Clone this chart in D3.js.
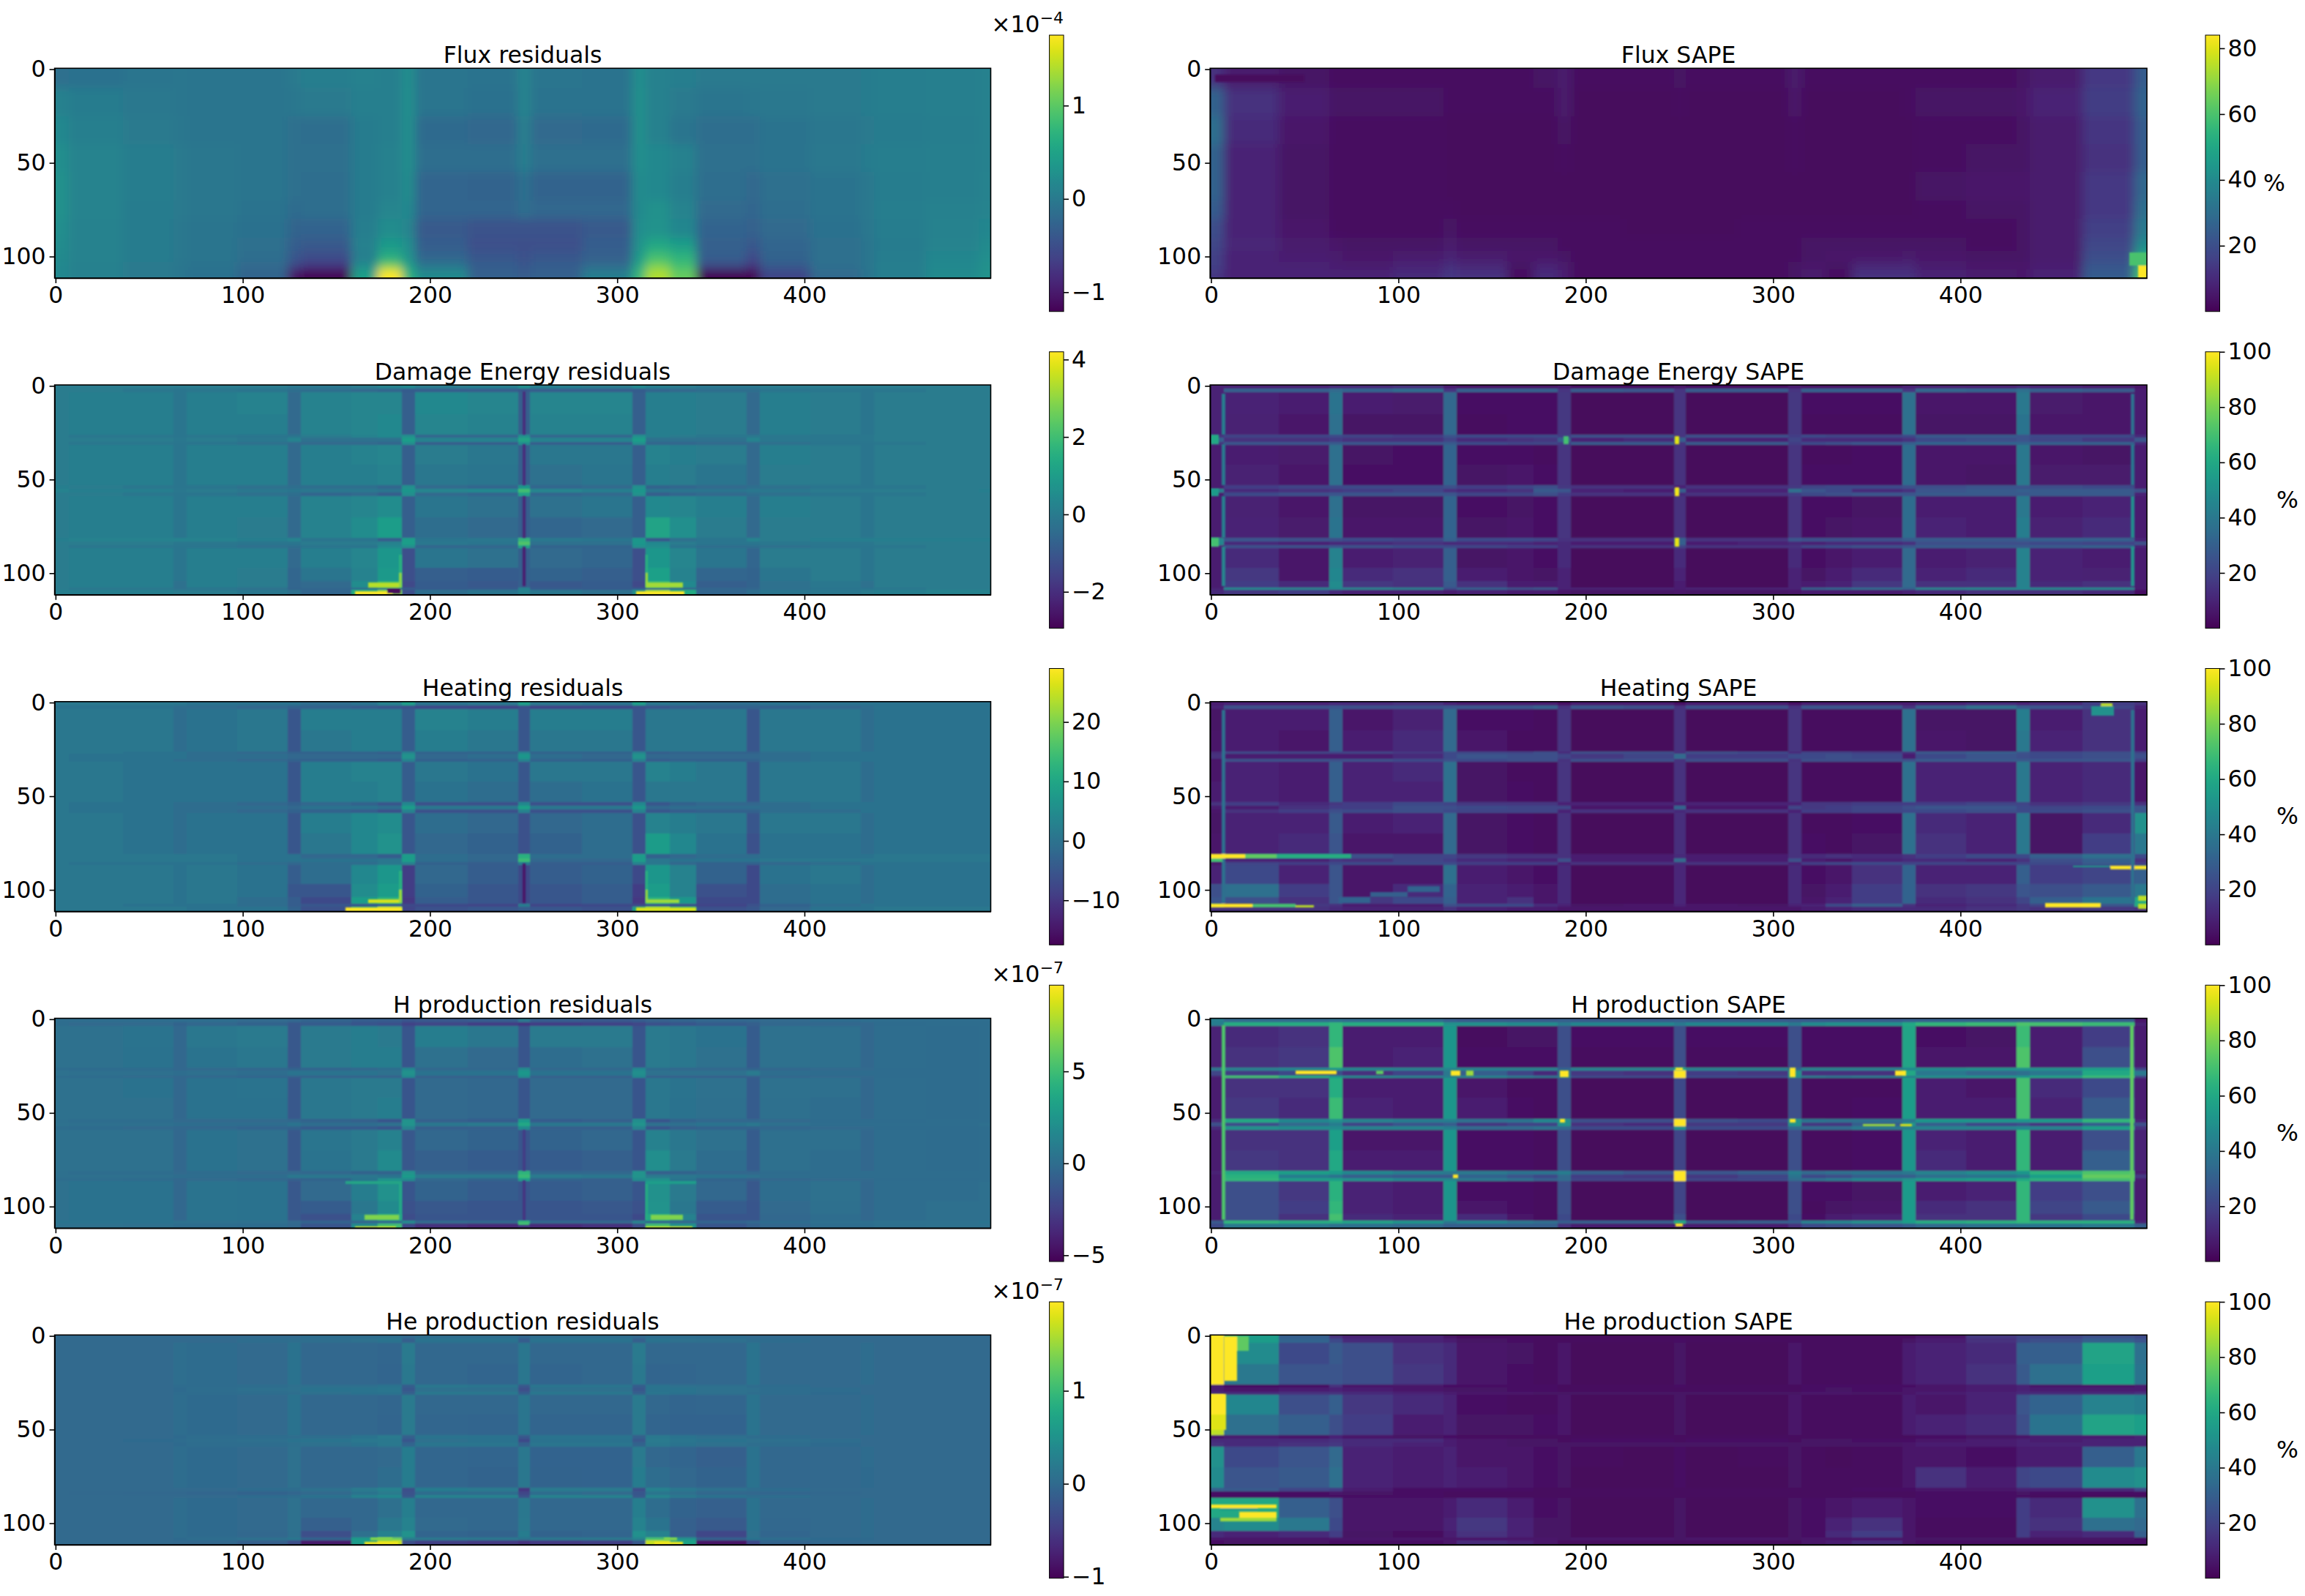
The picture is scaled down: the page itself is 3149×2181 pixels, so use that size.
<!DOCTYPE html>
<html>
<head>
<meta charset="utf-8">
<script src="https://d3js.org/d3.v7.min.js"></script>
<style>
  html, body { margin: 0; background: #fff; }
  text { font-family: "DejaVu Sans", sans-serif; fill: #000; }
  .tick line, .domain { stroke: #000; stroke-width: 1.6px; }
  .cell { shape-rendering: crispEdges; }
</style>
</head>
<body>
<svg id="fig" width="3149" height="2181"></svg>
<script>
// cell edges in data coordinates, the lattice panels share one grid
var xEdges = [-0.5,7,36,63,70,97,124,131,158,172,185,192,220,247,253.5,281,308,315,328,342,369,376,403,430,437,465,493,499.5];
var yEdges = [-0.5,1.5,3.5,15,26,27.5,30,31.5,42,53,55,57,59,70,81,83,85,86.5,97,104,107.5,109,111.5];
var fluxYEdges = [-0.5,10,25,40,55,70,80,90,97,103,107,111.5];

// flux residuals, unit 1e-6
var fluxResiduals = [
[-12,-10,-6,-4,-5,-5,0,5,8,6,24,-5,-8,14,-6,-8,26,8,5,0,0,0,0,3,5,6,8],
[8,2,-2,-4,-5,-5,-3,0,6,6,26,-5,-10,14,-8,-8,28,8,0,-5,-3,-2,0,2,5,6,8],
[18,6,0,-3,-5,-6,-12,-15,3,6,26,-18,-22,8,-20,-18,28,8,-5,-15,-15,-8,-3,0,3,5,8],
[25,12,4,0,-3,-6,-12,-12,3,8,24,-15,-15,6,-12,-12,26,18,8,-12,-12,-8,-2,2,5,6,8],
[28,12,4,0,-3,-6,-14,-15,3,8,22,-25,-28,-10,-28,-28,22,18,5,-15,-22,-14,-8,-2,4,6,10],
[28,12,3,0,-3,-8,-18,-15,3,14,18,-25,-25,-12,-22,-22,20,28,12,-20,-25,-15,-8,-2,5,8,12],
[25,10,2,-2,-5,-10,-28,-26,5,22,14,-38,-45,-45,-45,-38,24,30,15,-26,-30,-20,-10,-3,4,10,15],
[22,10,2,-2,-6,-12,-35,-38,8,38,24,-35,-48,-50,-48,-35,30,55,42,-30,-42,-25,-14,-5,3,12,20],
[20,10,2,-2,-6,-15,-42,-52,6,60,32,-25,-42,-48,-42,-30,38,85,70,-32,-56,-28,-14,-5,4,15,25],
[18,8,0,-4,-8,-20,-55,-72,20,105,45,-5,-35,-42,-35,-20,52,112,85,-52,-76,-36,-14,-5,5,18,28],
[18,8,0,-4,-10,-28,-105,-125,45,176,70,20,-30,-38,-30,5,75,140,105,-120,-120,-60,-20,-8,5,20,30]
];
var fluxSape = [
[12,6,4,3,3,3,3,3,3,4,6,3,3,4,3,3,6,3,3,3,3,3,3,4,6,14,24],
[26,12,7,4,4,4,3,3,3,3,6,2,2,3,2,2,5,2,2,2,3,4,4,5,8,15,26],
[30,10,5,3,3,3,2,2,2,2,4,2,2,2,2,2,3,2,2,2,2,3,3,4,6,13,24],
[26,8,4,3,3,3,2,2,2,2,3,2,2,2,2,2,3,2,2,2,2,3,4,4,6,12,24],
[26,8,4,3,3,3,2,2,2,2,2,2,2,2,2,2,2,2,2,2,2,4,5,5,6,14,28],
[24,8,4,3,3,3,3,2,2,2,2,2,2,2,2,2,2,2,2,2,2,3,4,4,6,14,30],
[20,8,5,3,3,3,4,3,3,3,3,3,2,2,2,3,3,3,3,3,3,3,3,4,6,16,34],
[18,9,6,5,4,4,6,4,4,4,3,3,3,3,3,3,3,4,4,4,4,4,3,4,6,18,40],
[16,8,7,6,5,6,8,6,5,5,4,3,3,3,3,3,3,4,5,5,6,5,4,4,6,20,50],
[16,8,8,7,6,8,11,9,4,8,6,3,3,3,3,3,4,5,4,9,9,6,5,5,7,22,55],
[14,8,8,8,8,10,14,12,3,10,7,3,3,3,3,3,4,6,3,12,12,8,6,5,8,24,60]
];
// damage energy residuals, unit 0.1
var damageResiduals = [
[0,0,0,0,0,0,-1,-1,0,2,4,0,1,6,1,0,4,1,0,-1,-1,0,0,0,0,0,0],
[0,0,-1,-2,-1,-2,-4,-4,-5,-6,-9,-8,-8,-10,-8,-8,-9,-6,-5,-4,-4,-2,-1,-2,-1,0,0],
[0,1,1,-2,1,2,-5,2,3,3,-8,4,3,-8,3,3,-8,1,1,0,-5,1,0,-2,0,0,0],
[0,1,1,-2,1,1,-5,2,3,4,-8,3,2,-8,2,2,-8,1,1,0,-5,1,0,-2,0,0,0],
[0,-1,-1,-2,-1,-2,-2,0,2,4,6,-6,-6,6,-6,-6,6,1,0,-1,-1,-1,-1,-1,0,0,0],
[0,0,0,-1,0,-1,2,-3,-3,-3,10,2,2,12,2,2,10,-3,-3,-3,2,-1,-1,-1,0,0,0],
[0,-1,-1,-2,-2,-3,-5,-5,-5,-6,6,-8,-8,6,-8,-8,6,-6,-6,-5,-5,-3,-2,-2,-1,0,0],
[0,1,1,-2,1,1,-5,1,2,3,-8,0,-1,-8,-1,-1,-8,2,1,0,-5,1,0,-2,0,0,0],
[0,1,1,-2,1,1,-5,1,1,2,-8,-1,-2,-8,-3,-2,-8,1,0,-2,-5,0,0,-2,0,0,0],
[1,0,-1,-2,-2,-3,-4,-4,-4,-6,6,-5,-6,8,-6,-5,6,-7,-6,-5,-4,-3,-2,-2,-1,0,0],
[2,1,1,-1,0,-1,-2,-1,-1,-2,8,3,4,20,3,1,8,-2,-2,-2,-1,-1,0,0,0,0,1],
[0,0,-1,-2,-2,-3,-4,-6,-5,-8,6,-5,-6,12,-6,-5,7,-8,-6,-5,-4,-3,-2,-2,-1,0,0],
[0,1,1,-2,1,1,-5,2,3,5,-8,-2,-3,-8,-3,-2,-8,4,3,1,-5,1,0,-2,0,0,0],
[0,1,1,-2,1,0,-5,2,5,10,-8,-4,-5,-8,-6,-5,-8,12,6,0,-5,0,0,-2,0,0,0],
[1,2,2,2,2,1,2,-2,-2,-8,10,-2,-1,18,-1,-2,8,-10,-3,-2,2,0,1,1,1,1,1],
[0,0,0,-1,-1,-2,-2,0,0,2,10,-1,-2,22,-3,-3,8,4,0,-2,-2,-1,-1,-1,0,0,0],
[0,-1,-1,-2,-2,-3,-4,-2,-2,4,6,-6,-6,12,-7,-7,6,5,-2,-4,-4,-3,-2,-2,-1,0,0],
[0,1,1,-2,1,1,-5,1,3,8,-12,-2,-3,-8,-5,-6,-12,8,3,-2,-6,0,0,-2,0,0,0],
[0,1,1,-2,1,0,-6,-2,2,9,-12,-8,-9,-8,-7,-8,-12,11,2,-6,-7,-2,0,-2,0,0,0],
[0,1,1,-3,1,0,-6,-5,5,16,-14,-9,-10,-8,-10,-9,-14,18,4,-8,-7,-3,-1,-3,0,0,0],
[0,-1,-1,-3,-2,-3,-7,-6,-4,-3,-9,-9,-9,2,-9,-9,-9,-8,-6,-6,-6,-3,-2,-2,-1,0,0],
[1,1,1,0,0,-1,-3,-6,14,28,-12,-4,-2,2,-1,-3,6,30,14,-6,-4,-2,-1,0,1,2,2]
];
var damageSape = [
[10,10,10,12,12,14,8,6,6,6,8,4,4,6,4,4,8,6,6,6,10,10,10,12,10,8,6],
[10,30,30,34,32,35,15,30,30,30,15,28,26,15,28,28,15,30,30,30,15,33,32,36,30,28,8],
[10,10,8,38,8,7,33,4,4,4,16,2,2,15,2,2,16,4,4,4,36,6,6,40,7,6,8],
[10,9,6,36,5,5,33,3,4,4,16,2,2,15,2,2,16,3,3,3,36,5,5,38,6,6,8],
[14,20,20,22,20,18,25,22,22,22,18,24,24,15,24,24,18,22,20,20,22,28,28,26,22,22,12],
[30,14,14,18,14,14,20,12,14,16,30,10,12,30,10,10,20,12,12,12,14,22,24,26,20,16,26],
[14,26,26,28,26,26,28,22,20,20,18,28,28,15,28,28,18,22,24,26,30,32,32,32,30,30,12],
[8,8,7,36,5,4,32,4,4,3,15,2,2,14,2,2,15,3,3,4,35,6,6,40,6,5,8],
[8,9,6,36,4,4,32,5,6,4,15,2,2,14,2,2,15,4,4,4,35,6,5,40,7,7,8],
[8,18,20,22,22,22,24,18,20,24,16,14,14,10,14,14,16,20,22,22,24,24,26,26,24,22,8],
[42,12,14,16,18,20,14,12,14,28,26,10,8,30,10,10,36,26,22,12,14,26,28,30,28,28,24],
[8,22,24,26,26,26,26,20,20,24,18,14,14,12,14,14,18,22,24,26,26,28,28,28,28,28,10],
[8,9,6,36,5,5,32,4,5,4,15,2,2,14,2,2,15,4,4,5,35,8,8,40,8,10,8],
[8,10,7,38,6,6,32,5,6,4,15,2,2,14,2,2,15,4,5,6,35,10,8,42,9,12,8],
[45,26,24,24,22,20,30,22,22,20,14,14,14,30,14,14,26,24,24,24,28,28,28,30,30,30,10],
[46,12,10,12,12,14,12,12,12,10,12,8,8,30,8,10,12,10,12,12,14,24,24,24,22,20,24],
[10,24,24,26,24,22,22,20,18,18,12,14,14,20,14,14,14,20,22,24,26,28,28,28,28,30,10],
[8,12,6,44,8,9,30,5,6,4,12,2,2,12,2,2,12,4,6,8,34,8,9,44,10,8,8],
[8,16,6,46,12,14,30,8,6,5,10,2,2,10,2,2,10,5,8,12,34,10,12,44,10,9,8],
[8,18,12,48,16,14,28,14,8,8,10,2,2,8,2,2,10,8,10,16,34,14,14,44,12,14,8],
[10,46,44,46,44,42,22,30,24,26,10,10,10,8,10,10,10,30,32,34,30,44,46,46,46,46,8],
[12,16,18,12,10,10,8,10,8,8,6,5,5,6,5,5,6,8,8,8,10,12,14,14,14,12,4]
];
var heatingResiduals = [
[1,1,1,1,0,0,0,-1,0,3,8,0,1,8,1,0,8,1,0,-1,-1,0,0,0,0,0,0],
[0,0,0,-1,-1,-2,-3,-3,-4,-5,-6,-7,-8,-6,-8,-7,-6,-5,-4,-3,-3,-3,-2,-1,0,0,0],
[1,1,1,-1,0,1,-5,2,2,2,-4,3,2,-5,2,2,-5,1,1,1,-5,1,1,-1,0,0,0],
[1,1,1,-1,0,1,-5,1,2,2,-4,2,1,-5,1,1,-5,1,1,1,-5,1,1,-1,0,0,0],
[1,1,0,0,-1,-2,-3,-3,-3,-4,3,-3,-3,3,-3,-3,3,-4,-3,-3,-3,-1,0,0,0,0,0],
[1,0,0,0,-1,-1,-2,-2,-2,-2,6,-2,-1,7,-1,-2,6,-2,-2,-2,-2,-1,0,0,0,0,0],
[1,0,0,-1,-1,-2,-3,-3,-3,-4,3,-3,-3,3,-3,-3,3,-4,-3,-3,-3,-1,0,0,0,0,0],
[1,1,0,0,0,0,-5,2,3,3,-4,1,0,-5,1,1,-5,3,2,1,-5,1,1,-1,0,0,0],
[1,1,0,0,0,0,-5,2,2,3,-4,0,-1,-5,-1,0,-5,1,1,1,-5,1,1,-1,0,0,0],
[1,0,0,-1,-1,-2,-3,-2,-3,-5,4,-6,-6,4,-6,-6,4,-5,-3,-2,-2,-1,0,0,0,0,0],
[1,0,0,-1,-1,-1,-2,0,0,-1,8,1,1,9,1,1,7,-2,-1,-1,-1,-1,0,0,0,0,0],
[1,0,0,-1,-1,-2,-3,-3,-4,-6,3,-6,-6,3,-6,-6,3,-5,-4,-3,-3,-1,-1,0,0,0,0],
[1,1,0,-1,0,0,-5,2,4,5,-5,-1,-2,-6,-2,-1,-6,3,2,1,-5,1,1,-1,0,0,0],
[1,1,0,-1,0,0,-5,1,4,6,-5,-2,-3,-6,-3,-1,-6,8,4,0,-6,0,0,-1,0,0,0],
[1,1,1,1,1,0,0,-2,-2,-4,8,-1,-2,12,-1,-1,8,-3,-2,-1,-1,0,0,0,1,1,1],
[1,1,1,1,1,0,0,0,0,1,8,-1,-2,14,-2,-2,8,1,0,0,0,1,1,1,1,1,1],
[1,0,0,0,0,-1,-2,-1,-1,1,3,-3,-4,2,-4,-4,3,1,-2,-3,-3,-2,-1,0,0,0,0],
[1,1,1,0,1,0,-4,-1,4,7,-9,-2,-4,-7,-4,-3,-7,7,3,-3,-7,0,1,-1,0,0,0],
[1,1,1,0,1,0,-5,-5,5,8,-9,-3,-5,-7,-5,-4,-9,8,3,-6,-7,-1,0,-1,0,0,0],
[1,1,1,0,1,-1,-4,-7,8,12,-10,-4,-5,-7,-5,-4,-10,12,7,-7,-7,-1,0,-1,0,0,0],
[1,1,0,0,0,-1,-4,-5,-5,-4,-7,-7,-8,2,-8,-7,-7,-5,-6,-8,-6,-3,-1,0,0,0,0],
[1,1,1,1,0,0,-3,-6,8,22,-8,-6,-5,-4,-5,-6,8,20,10,-6,-5,-2,0,0,1,1,1]
];
var heatingSape = [
[8,10,10,12,12,14,10,8,8,8,4,8,8,4,8,8,4,8,8,8,8,10,12,10,12,18,14],
[10,24,24,26,24,24,26,26,26,30,14,26,24,14,24,24,14,26,26,26,14,30,36,28,26,20,10],
[5,8,8,30,6,9,34,4,4,3,15,2,2,14,2,2,15,3,3,3,36,5,5,42,8,14,8],
[6,8,6,30,8,12,34,6,3,3,15,2,2,14,2,2,15,3,3,3,36,6,5,40,10,14,8],
[12,22,20,20,20,16,22,20,20,24,12,24,24,14,24,22,12,20,20,18,14,28,30,26,22,24,20],
[14,8,8,8,8,12,22,26,24,24,20,16,20,34,18,18,22,22,24,22,8,22,26,24,22,24,24],
[6,24,24,24,24,22,24,22,24,24,14,24,24,14,24,24,14,24,24,24,24,28,28,28,26,26,18],
[6,10,8,30,10,12,36,5,3,3,15,2,2,14,2,2,15,3,3,3,36,10,10,40,10,12,6],
[8,10,8,30,10,10,36,5,4,3,15,2,2,14,2,2,15,3,3,3,36,10,10,40,10,12,6],
[14,18,12,16,18,22,20,16,16,16,10,10,10,10,10,10,10,16,16,18,18,18,20,20,14,16,14],
[8,8,14,18,18,24,24,22,20,20,20,6,6,32,6,6,20,16,18,20,24,26,26,22,20,22,26],
[6,14,18,24,22,24,22,20,20,20,10,14,14,12,14,14,10,18,18,20,22,22,24,22,22,24,26],
[5,10,10,28,8,10,34,5,4,3,14,2,2,13,2,2,14,3,3,4,36,12,10,40,5,12,50],
[6,10,12,26,6,6,34,5,4,3,14,2,2,13,2,2,14,4,3,5,36,14,10,40,5,18,40],
[14,28,28,30,24,20,20,16,14,14,14,8,8,12,8,8,14,12,14,12,14,18,22,22,30,36,22],
[12,10,10,16,14,20,18,12,10,10,24,8,8,34,8,8,24,8,6,10,12,12,10,14,24,30,14],
[6,20,18,22,22,22,22,18,18,18,10,14,14,12,14,14,10,18,20,22,20,20,20,20,22,28,18],
[10,22,10,26,6,6,36,8,6,4,12,2,2,11,2,2,12,4,6,14,32,10,10,30,18,20,30],
[24,36,18,26,6,12,32,10,8,6,12,2,2,11,2,2,12,5,8,18,32,14,16,26,24,28,40],
[26,24,14,26,16,22,30,10,14,6,12,2,2,11,2,2,12,6,10,18,32,12,14,20,30,38,60],
[40,10,16,14,8,8,24,22,22,12,10,5,6,10,6,5,10,10,22,30,14,10,12,16,20,26,60],
[14,14,14,12,10,10,14,10,8,8,6,6,6,6,6,6,6,8,10,12,12,12,14,16,14,16,14]
];
// H production residuals, unit 1e-8
var hResiduals = [
[0,0,0,0,0,-2,-4,-6,-10,-10,-14,-12,-10,6,-10,-12,-10,-8,-6,-4,-3,-2,-1,0,0,0,0],
[0,-2,-2,-6,-4,-6,-12,-10,-14,-16,-24,-22,-26,-30,-26,-24,-22,-16,-14,-10,-8,-4,-3,-3,-1,0,0],
[2,2,4,-4,6,8,-12,8,10,8,-14,10,6,-14,8,8,-14,8,6,3,-10,2,1,-4,0,-1,0],
[2,2,3,-4,4,6,-12,8,10,10,-14,2,-2,-14,0,2,-14,8,6,2,-10,2,1,-4,0,-1,0],
[0,-1,-1,-3,-2,-3,-6,-5,-3,0,16,-3,-3,18,-3,-3,16,-1,-3,-4,-6,-3,-2,-2,-1,-1,0],
[2,1,1,0,1,0,4,4,4,2,22,3,3,26,3,3,20,2,2,2,8,0,-1,-1,-1,-1,0],
[0,-1,-2,-4,-4,-5,-8,-8,-8,-8,16,-8,-8,18,-8,-8,16,-8,-8,-8,-8,-4,-2,-2,-1,-1,0],
[2,2,3,-4,3,4,-12,6,8,8,-14,-2,-3,-14,-2,-2,-14,6,4,2,-10,2,1,-4,0,-1,0],
[2,2,2,-4,3,3,-12,6,8,10,-14,-2,-3,-14,-2,-2,-14,6,3,1,-10,1,0,-4,0,-1,0],
[1,0,0,-2,-2,-2,-4,-6,-8,-14,24,-8,-10,28,-10,-8,20,-14,-6,-4,-4,-2,-1,-1,-1,0,0],
[2,1,1,0,0,0,4,0,0,2,24,6,8,36,6,6,24,2,1,4,6,1,0,0,0,0,1],
[0,-1,-2,-3,-4,-5,-6,-10,-10,-14,14,-8,-8,18,-8,-8,14,-14,-8,-6,-6,-3,-2,-2,-1,-1,0],
[2,2,2,-4,3,2,-12,5,8,12,-12,-4,-6,-14,-6,-4,-14,12,6,2,-10,1,1,-4,0,-1,0],
[2,2,2,-4,3,2,-12,4,8,18,-12,-8,-10,-14,-10,-8,-14,20,8,0,-10,1,0,-4,0,-1,0],
[1,0,0,-2,-1,-2,-2,-4,-6,-6,24,-3,-4,44,-4,-4,24,-8,-6,-4,-3,-1,0,0,0,0,0],
[1,1,1,0,0,0,6,6,6,4,28,8,8,48,8,6,24,8,6,4,2,0,0,0,0,0,0],
[0,0,-1,-3,-2,-4,-8,-6,4,22,18,-4,-6,30,-6,-8,18,22,4,-6,-8,-4,-2,-2,-1,-1,0],
[2,3,3,-4,4,3,-12,-2,10,22,-14,-6,-10,-14,-10,-8,-14,22,8,-3,-12,0,2,-4,0,0,1],
[2,3,3,-4,4,3,-12,-10,6,18,-16,-12,-14,-14,-14,-12,-16,24,6,-10,-14,-2,1,-4,0,1,1],
[2,3,3,-4,4,3,-12,-16,12,32,-18,-14,-14,-14,-14,-14,-20,36,12,-14,-14,-3,0,-4,0,1,1],
[4,4,3,2,2,1,-2,-6,-4,-2,18,-2,-3,34,-3,-3,14,-3,-3,-5,-4,-1,1,1,2,2,4],
[2,2,1,0,0,-1,-4,-14,18,50,-22,-32,-36,-30,-36,-32,-18,50,22,-14,-8,-3,0,0,1,2,2]
];
var hSape = [
[42,34,34,36,34,34,30,28,28,28,30,28,28,30,28,28,28,28,28,28,30,30,30,30,28,28,6],
[42,62,62,66,62,62,50,50,48,48,40,46,46,40,46,46,40,48,50,50,60,66,68,72,70,68,10],
[10,12,14,66,8,8,52,3,5,5,24,4,4,24,4,4,24,4,4,4,58,4,5,68,8,18,8],
[10,14,16,72,8,10,52,4,4,4,24,3,3,24,3,3,24,4,4,4,58,6,6,72,8,24,8],
[40,44,46,52,46,44,44,44,44,44,32,44,44,60,44,44,32,44,44,44,46,48,50,50,50,56,20],
[20,18,22,24,14,20,40,30,20,12,36,16,14,100,18,16,50,14,14,14,60,40,34,36,40,60,40],
[10,70,62,52,46,44,42,44,40,36,40,22,22,100,22,22,48,40,38,40,42,50,52,52,58,68,20],
[8,14,14,62,8,8,52,6,3,3,24,2,2,22,2,2,24,3,3,3,55,8,6,70,12,22,8],
[8,16,12,68,10,8,52,8,4,3,24,2,2,22,2,2,24,3,3,4,55,8,8,70,10,28,8],
[12,60,46,50,44,42,42,36,38,46,50,24,24,100,24,22,50,38,36,36,40,52,52,52,54,66,10],
[24,24,34,42,20,26,30,16,20,20,50,14,12,100,16,16,50,16,16,30,50,30,22,24,16,30,24],
[12,50,48,48,44,44,42,34,34,36,34,22,22,50,22,22,34,34,34,40,42,44,44,46,44,56,14],
[8,14,14,56,6,6,52,4,4,3,24,2,2,20,2,2,24,3,3,4,52,10,8,66,8,24,10],
[8,16,14,60,8,8,52,4,4,3,24,2,2,20,2,2,24,3,3,4,52,12,8,66,8,30,10],
[10,60,56,54,46,42,40,40,38,38,42,30,26,100,26,30,42,34,36,38,40,44,48,52,64,72,8],
[8,64,42,38,30,28,28,32,26,22,34,18,16,100,16,20,38,22,24,30,30,36,38,42,56,76,16],
[8,66,56,56,50,46,46,40,36,30,34,20,20,100,20,22,34,36,40,46,50,54,56,60,64,70,8],
[8,24,16,64,10,8,52,4,4,3,24,2,2,20,2,2,24,4,4,5,54,8,10,66,18,24,8],
[8,24,18,66,10,8,52,6,4,3,24,2,2,20,2,2,24,3,5,6,54,12,14,66,20,28,8],
[8,24,14,70,12,10,52,12,6,3,22,2,2,24,2,2,22,4,8,10,54,14,14,66,16,22,8],
[28,66,62,62,58,52,40,46,40,36,30,30,30,60,28,30,30,44,46,50,56,62,64,66,64,64,10],
[22,40,40,36,36,34,30,30,30,30,14,8,8,10,8,8,14,22,24,26,30,34,36,38,38,40,30]
];
// He production residuals, unit 1e-9
var heResiduals = [
[0,0,0,0,0,0,0,3,4,4,-3,3,3,-5,3,4,-3,3,3,2,0,0,0,0,0,0,0],
[0,0,0,0,0,3,5,5,8,12,-10,10,10,-15,10,10,-10,10,8,6,4,2,0,0,0,0,0],
[0,0,0,5,2,0,10,-2,-3,-5,20,-3,-3,15,-3,-3,20,-4,-4,-3,12,0,0,3,0,0,0],
[0,0,0,5,2,0,10,-2,-4,-6,18,-4,-6,15,-6,-4,18,-6,-5,-3,12,0,0,3,0,0,0],
[0,0,0,2,2,3,6,6,6,12,-15,16,14,-20,14,14,-15,12,8,6,4,2,0,0,0,0,0],
[0,0,0,1,4,6,8,10,12,14,-20,8,6,-30,8,8,-20,12,12,8,6,4,2,0,0,0,0],
[0,0,0,2,2,3,5,8,10,12,-10,18,18,-15,16,16,-12,14,10,8,5,3,1,0,0,0,0],
[0,0,0,4,1,0,10,-3,-4,-5,20,-3,-4,14,-4,-3,20,-4,-6,-5,12,0,0,2,0,0,0],
[0,0,0,4,1,0,10,-3,-3,-6,20,-5,-6,14,-6,-6,20,-6,-7,-7,12,0,0,2,0,0,0],
[0,0,0,1,3,3,5,5,12,20,-10,12,10,-20,12,12,-10,18,12,6,4,2,0,0,0,0,0],
[0,0,1,2,5,6,10,12,16,18,-22,8,10,-35,10,10,-20,20,14,10,8,6,3,0,0,0,0],
[0,0,0,1,3,4,6,8,12,18,-6,14,14,-10,14,14,-8,18,12,8,5,3,1,0,0,0,0],
[0,0,0,3,1,0,8,-4,-2,0,22,-5,-6,16,-7,-7,20,-2,-6,-10,10,-2,-1,2,0,0,0],
[0,0,0,3,1,0,8,-4,-2,4,22,-5,-8,16,-8,-7,22,3,-4,-8,10,-2,-1,1,0,0,0],
[0,0,0,0,0,2,4,8,20,30,-30,22,20,-55,20,20,-30,28,16,8,4,2,0,0,0,0,0],
[0,-1,-2,-3,-5,-8,-5,0,12,20,-25,2,2,-40,2,0,-22,14,6,-2,-4,-5,-3,0,0,0,0],
[0,0,0,0,0,2,3,10,28,36,-20,30,30,-25,30,30,-20,32,18,10,4,3,0,0,0,0,0],
[0,0,0,3,1,0,8,-4,-2,6,24,-2,-3,16,-4,-4,24,4,-8,-10,10,-1,0,2,0,0,0],
[0,0,0,3,1,0,8,-10,-2,16,30,0,-2,18,-2,-2,30,12,-10,-18,10,-2,0,2,0,0,0],
[0,0,0,3,1,-2,6,-30,8,30,50,-6,-8,22,-8,-6,46,30,-14,-38,8,-5,0,2,0,0,0],
[0,0,0,1,3,8,15,-8,60,130,20,18,16,10,16,16,30,110,50,-10,10,3,1,1,0,0,0],
[0,0,0,-1,-3,-10,-30,-80,60,170,-30,-45,-50,-60,-50,-45,-20,170,70,-85,-35,-8,-3,0,0,0,0]
];
var heSape = [
[100,55,30,14,10,10,5,3,3,3,3,2,2,2,2,2,3,3,3,3,3,6,16,20,20,24,22],
[100,55,32,22,12,10,8,5,4,3,3,3,3,4,3,3,3,3,3,3,5,8,14,22,24,30,26],
[100,48,22,28,24,14,12,6,5,3,6,2,2,5,2,2,6,3,3,3,8,10,12,30,30,58,36],
[100,40,26,26,24,16,12,6,4,3,6,2,2,5,2,2,6,3,3,3,8,10,14,28,36,56,38],
[8,4,4,14,6,6,4,4,4,4,3,3,3,4,3,3,3,4,4,4,4,6,8,10,6,6,8],
[8,6,8,10,8,6,5,5,4,4,3,3,3,3,3,3,3,4,5,4,6,6,8,10,8,8,8],
[12,12,14,14,12,10,8,6,6,5,5,5,5,5,5,5,5,6,6,5,6,8,10,12,12,12,14],
[100,46,24,30,16,12,10,4,3,3,6,2,2,5,2,2,6,3,3,3,8,6,10,26,32,44,42],
[90,36,30,24,18,8,10,5,5,4,6,2,2,5,2,2,6,3,3,3,8,10,12,24,38,58,56],
[6,8,6,10,6,5,4,3,3,3,3,3,3,3,3,3,3,3,3,3,3,4,5,6,8,8,10],
[12,12,12,14,12,12,8,6,5,5,3,4,4,3,4,4,3,5,5,4,4,6,8,10,8,10,10],
[14,12,14,16,12,10,8,6,5,5,5,5,5,5,5,5,5,5,5,5,6,8,8,10,10,10,10],
[50,22,26,34,10,8,10,6,6,4,5,3,2,4,2,3,5,3,2,3,6,6,4,8,8,30,40],
[48,26,28,36,10,8,10,8,6,4,5,2,2,4,2,2,5,3,3,3,6,14,8,20,22,48,50],
[30,28,20,18,8,4,4,4,4,3,3,3,3,3,3,3,3,3,3,4,4,6,6,10,10,12,20],
[4,4,4,6,5,4,3,3,3,3,3,3,3,3,3,3,3,3,3,3,3,4,4,5,4,4,4],
[4,4,4,4,4,4,3,3,3,3,3,3,3,3,3,3,3,3,3,3,3,4,4,4,3,3,3],
[60,60,30,24,6,6,8,12,8,4,5,2,2,5,2,2,5,4,6,8,6,4,4,18,12,50,36],
[45,48,40,22,6,6,10,16,10,5,5,2,2,5,2,2,5,4,10,14,6,3,3,18,14,36,34],
[12,10,12,18,5,3,8,14,10,5,5,2,2,5,2,2,5,4,12,18,6,3,3,18,10,12,30],
[6,6,6,6,6,6,6,6,6,6,5,6,6,5,6,6,5,6,6,6,6,5,5,5,5,5,4],
[4,5,5,4,4,4,6,12,10,6,3,3,3,3,3,3,3,6,8,12,5,4,4,4,4,4,4]
];

// narrow features that fall between the grid lines: [x0, x1, y0, y1, value]
var fluxSapeSpots = [[2,50,3,7,2],[490,499.5,98,105,60],[495,499.5,105,111.5,84]];
var damageResSpots = [[249.5,251,3,26,-20],[249.5,251,31,53,-20],[249.5,251,59,81,-22],[249.5,251,86,107,-24],[167,184,105,107.5,34],[183.5,185,100,107.5,30],[183.5,185,90,100,16],[315,316.5,100,107.5,32],[315,316.5,90,100,16],[316,335,105,107.5,32],[160,180,109.5,111.5,42],[310,336,109.5,111.5,42],[177,184,108,111,-28]];
var damageSapeSpots = [[5.5,7.5,4,26,42],[5.5,7.5,31,53,40],[5.5,7.5,59,81,42],[5.5,7.5,86,107,45],[491,493,4,26,36],[491,493,31,53,38],[491,493,59,81,48],[491,493,86,107,50],[0,4,26,31,60],[0,4,55,59,55],[0,4,81,86,70],[247.5,250,27,31,95],[247.5,250,54,59,98],[247.5,250,81,86,96],[188,191,27,31,70]];
var heatingResSpots = [[249.5,251,86,107,-15],[167,184,105,107,26],[183.5,185,100,107,22],[183.5,185,90,100,12],[315,316.5,100,107,22],[315,316.5,90,100,12],[316,333,105,107,22],[155,185,109.5,111.5,29],[310,342,109.5,111.5,26]];
var heatingSapeSpots = [[5.5,7.5,4,107,36],[-0.5,18,81,83,100],[18,35,81,83,75],[35,75,81,83,62],[-0.5,6,83,85,70],[-0.5,22,107.5,109.5,100],[22,45,107.5,109.5,70],[45,55,108,109.5,90],[445,475,107,109.5,100],[480,499.5,87,89,100],[460,480,87,88,55],[475,481,0.5,2,90],[470,482,2,7,50],[495,499.5,103,106,90],[495,499.5,107.5,110,90],[68,85,104,107,32],[85,105,101,104,30],[105,122,98,101,32],[491,493,4,107,36]];
var hResSpots = [[249.5,251,59,81,-26],[249.5,251,86,107,-30],[165,184,104.5,107,68],[318,335,104.5,107,68],[183.5,185,88,107,36],[315,316.5,88,107,40],[160,182,110.5,111.5,90],[315,340,110.5,111.5,90],[247,253,108,110,50],[155,185,86.5,88,35],[315,342,86.5,88,30]];
var hSapeSpots = [[5.5,7.5,3,107,72],[490.5,492.5,3,107,75],[45,67,27.5,29.5,100],[88,92,27.5,29.5,75],[128,133,27.5,30,100],[136,140,27.5,30,85],[186,191,27.5,31,100],[365,371,27.5,30,100],[248,252,26,27.5,100],[309,312,26,31,100],[186,189,53,55,100],[309,312,53,55,100],[348,365,56,57,85],[368,374,56,57,95],[129,132,83,85,100],[248,252,109,110.5,100]];
var heResSpots = [[165,183,110,111.5,190],[320,335,110,111.5,190],[168,180,107.5,109,140],[325,332,107.5,109,140]];
var heSapeSpots = [[7,14,0,24,100],[14,20,0,8,75],[-0.5,8,31,42,100],[-0.5,8,42,50,95],[0,35,90,92,100],[5,25,92,93,55],[15,35,94,97,100],[5,35,97,99,85]];

// colorbar domains and ticks in the units printed on the bar
var residualLeft = [
  {title:"Flux residuals", values:fluxResiduals, spots:[], unit:100, domain:[-1.207,1.755], ticks:[-1,0,1], exp:"\u22124", ys:fluxYEdges},
  {title:"Damage Energy residuals", values:damageResiduals, spots:damageResSpots, unit:10, domain:[-2.94,4.2], ticks:[-2,0,2,4], exp:null, ys:yEdges},
  {title:"Heating residuals", values:heatingResiduals, spots:heatingResSpots, unit:1, domain:[-17.5,29], ticks:[-10,0,10,20], exp:null, ys:yEdges},
  {title:"H production residuals", values:hResiduals, spots:hResSpots, unit:10, domain:[-5.34,9.69], ticks:[-5,0,5], exp:"\u22127", ys:yEdges},
  {title:"He production residuals", values:heResiduals, spots:heResSpots, unit:100, domain:[-1.016,1.957], ticks:[-1,0,1], exp:"\u22127", ys:yEdges}
];
var sapeRight = [
  {title:"Flux SAPE", values:fluxSape, spots:fluxSapeSpots, unit:1, domain:[0,84], ticks:[20,40,60,80], ys:fluxYEdges},
  {title:"Damage Energy SAPE", values:damageSape, spots:damageSapeSpots, unit:1, domain:[0,100], ticks:[20,40,60,80,100], ys:yEdges},
  {title:"Heating SAPE", values:heatingSape, spots:heatingSapeSpots, unit:1, domain:[0,100], ticks:[20,40,60,80,100], ys:yEdges},
  {title:"H production SAPE", values:hSape, spots:hSapeSpots, unit:1, domain:[0,100], ticks:[20,40,60,80,100], ys:yEdges},
  {title:"He production SAPE", values:heSape, spots:heSapeSpots, unit:1, domain:[0,100], ticks:[20,40,60,80,100], ys:yEdges}
];

var fontSize = 31.5;
var rowStep = 432.75, axTop = 93.3, axH = 286.7, barTop = 48, barH = 377.7;
var svg = d3.select("#fig");
var defs = svg.append("defs");

var softFlux = defs.append("filter").attr("id", "softFlux").attr("x", "-5%").attr("y", "-5%").attr("width", "110%").attr("height", "110%");
softFlux.append("feGaussianBlur").attr("stdDeviation", 7);
var softGrid = defs.append("filter").attr("id", "softGrid").attr("x", "-2%").attr("y", "-2%").attr("width", "104%").attr("height", "104%");
softGrid.append("feGaussianBlur").attr("stdDeviation", 1);

var grad = defs.append("linearGradient").attr("id", "viridisBar").attr("x1", 0).attr("x2", 0).attr("y1", 1).attr("y2", 0);
d3.range(0, 1.0001, 0.02).forEach(function(t) {
  grad.append("stop").attr("offset", t).attr("stop-color", d3.interpolateViridis(t));
});

function drawPanel(p, row, x0, x1, barX) {
  var id = (x0 < 500 ? "l" : "r") + row;
  var top = axTop + row * rowStep;
  var x = d3.scaleLinear().domain([-0.5, 499.5]).range([x0, x1]);
  var y = d3.scaleLinear().domain([-0.5, 111.5]).range([top, top + axH]);
  var color = d3.scaleSequential(d3.interpolateViridis).domain(p.domain);

  defs.append("clipPath").attr("id", "clip" + id).append("rect")
    .attr("x", x0).attr("y", top).attr("width", x1 - x0).attr("height", axH);

  var last = p.ys.length - 2;
  var cells = [];
  p.values.forEach(function(r, i) {
    r.forEach(function(v, j) {
      // outer cells run past the frame so the soft edge is clipped away
      cells.push([j === 0 ? -40 : xEdges[j], j === r.length - 1 ? 540 : xEdges[j + 1],
        i === 0 ? -20 : p.ys[i], i === last ? 132 : p.ys[i + 1], v]);
    });
  });
  function drawCells(sel, data, cls) {
    sel.selectAll("rect." + cls).data(data).enter().append("rect")
      .attr("class", "cell " + cls)
      .attr("x", function(d) { return x(d[0]); })
      .attr("y", function(d) { return y(d[2]); })
      .attr("width", function(d) { return x(d[1]) - x(d[0]); })
      .attr("height", function(d) { return y(d[3]) - y(d[2]); })
      .attr("fill", function(d) { return color(d[4] / p.unit); });
  }

  var clipped = svg.append("g").attr("clip-path", "url(#clip" + id + ")");
  var isFlux = p.ys === fluxYEdges;
  var soft = clipped.append("g").attr("filter", isFlux ? "url(#softFlux)" : "url(#softGrid)");
  drawCells(soft, cells, "base");
  if (p.spots.length) drawCells(clipped.append("g").attr("filter", "url(#softGrid)"), p.spots, "spot");

  svg.append("g").attr("transform", "translate(0," + (top + axH) + ")")
    .call(d3.axisBottom(x).tickValues([0, 100, 200, 300, 400]).tickSize(7).tickPadding(5).tickSizeOuter(0));
  svg.append("g").attr("transform", "translate(" + x0 + ",0)")
    .call(d3.axisLeft(y).tickValues([0, 50, 100]).tickSize(7).tickPadding(5).tickSizeOuter(0));
  svg.selectAll("g").selectAll(".tick text").style("font-size", fontSize + "px").style("font-family", "DejaVu Sans");

  // full frame around the image
  svg.append("rect").attr("x", x0).attr("y", top).attr("width", x1 - x0).attr("height", axH)
    .attr("fill", "none").attr("stroke", "#000").attr("stroke-width", 1.6);

  svg.append("text").attr("x", (x0 + x1) / 2).attr("y", top - 7.5)
    .attr("text-anchor", "middle").style("font-size", fontSize + "px").text(p.title);

  // colorbar
  var bTop = barTop + row * rowStep;
  var by = d3.scaleLinear().domain(p.domain).range([bTop + barH, bTop]);
  svg.append("rect").attr("x", barX).attr("y", bTop).attr("width", 19.5).attr("height", barH)
    .attr("fill", "url(#viridisBar)").attr("stroke", "#000").attr("stroke-width", 1);
  var gb = svg.append("g").attr("transform", "translate(" + (barX + 19.5) + ",0)")
    .call(d3.axisRight(by).tickValues(p.ticks).tickFormat(d3.format("d")).tickSize(7).tickPadding(4).tickSizeOuter(0));
  gb.select(".domain").remove();
  gb.selectAll("text").style("font-size", fontSize + "px");

  if (p.exp) {
    var t = svg.append("text").attr("x", barX + 19.5).attr("y", bTop - 4.5)
      .attr("text-anchor", "end").style("font-size", fontSize + "px");
    t.append("tspan").text("\u00d710");
    t.append("tspan").attr("dy", -12).style("font-size", "22px").text(p.exp);
  }
  if (x0 > 500) {
    svg.append("text").attr("x", row === 0 ? 3092 : 3110).attr("y", bTop + barH / 2 + 24)
      .style("font-size", fontSize + "px").text("%");
  }
}

residualLeft.forEach(function(p, i) { drawPanel(p, i, 74.6, 1353.5, 1433.6); });
sapeRight.forEach(function(p, i) { drawPanel(p, i, 1653.2, 2933, 3013); });
</script>
</body>
</html>
